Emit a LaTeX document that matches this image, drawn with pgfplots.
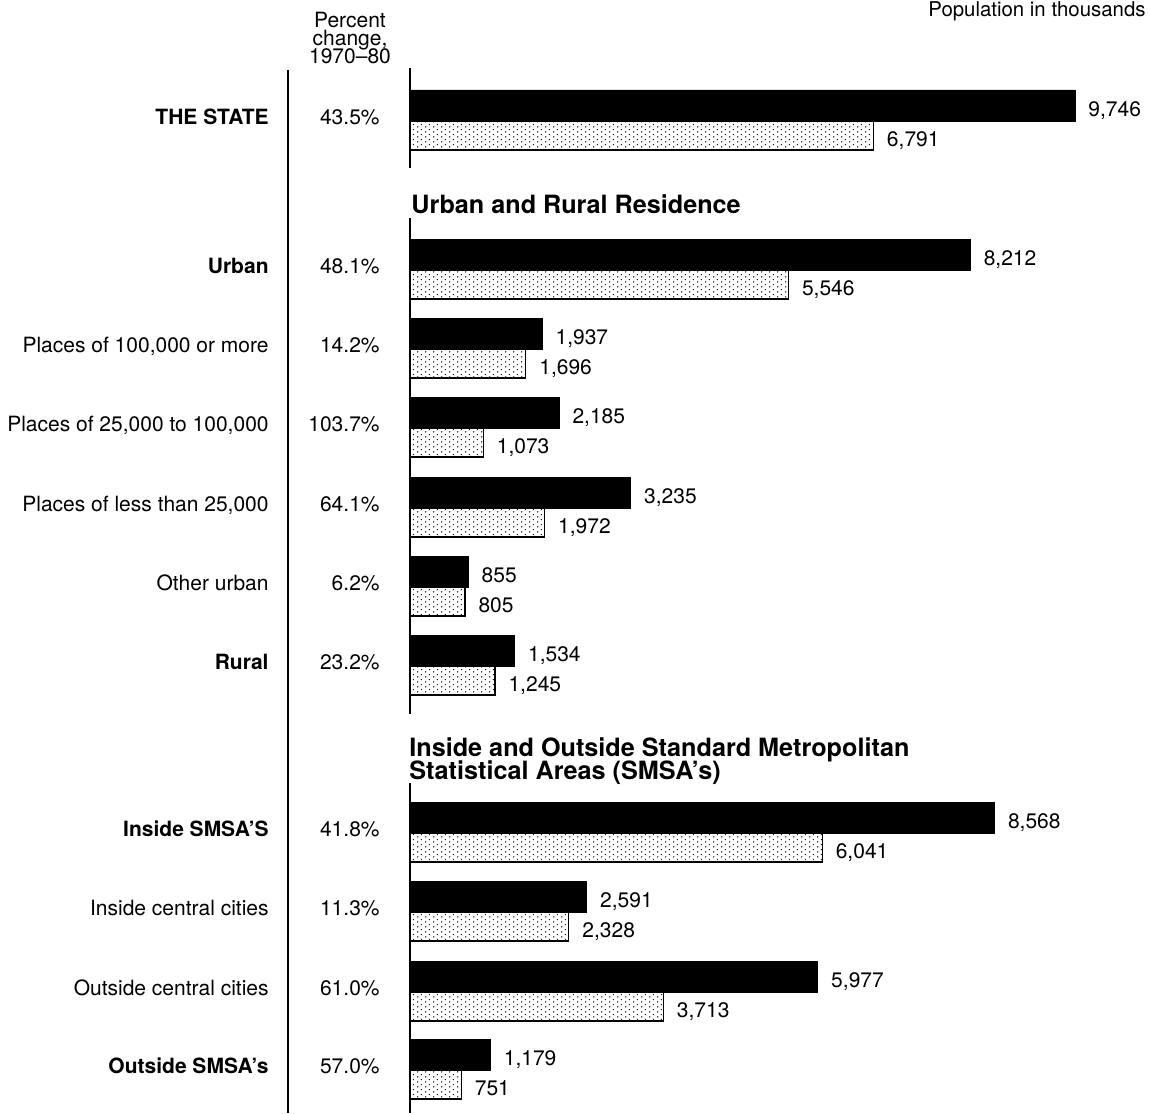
\documentclass[border=0pt]{standalone}
\usepackage{fontspec}
\setmainfont{TeX Gyre Heros}
\usepackage{pgfplots}
\pgfplotsset{compat=1.18}
\usetikzlibrary{patterns}
\pgfdeclarepatternformonly{finedots}{\pgfpointorigin}{\pgfpoint{4pt}{2.6pt}}{\pgfpoint{4pt}{2.6pt}}{%
  \pgfpathcircle{\pgfpoint{1pt}{0.65pt}}{0.38pt}%
  \pgfpathcircle{\pgfpoint{3pt}{1.95pt}}{0.38pt}%
  \pgfusepath{fill}}
\newcommand{\lab}{\fontsize{10.5}{12}\selectfont}
\newcommand{\head}{\bfseries\fontsize{12.6}{11}\selectfont}
\begin{document}
\begin{tikzpicture}[every node/.style={inner sep=0pt}]
\useasboundingbox (0,0) rectangle (574.5pt,556.5pt);
\clip (0,0) rectangle (574.5pt,556.5pt);
\begin{axis}[
  at={(0,0)}, anchor=south west,
  scale only axis, width=574.5pt, height=556.5pt,
  xmin=-6008.8, xmax=10830.5, ymin=0, ymax=1113, y dir=reverse,
  hide axis, clip=false,
]
% 1980 (dark)
\addplot[xbar, bar width=31, bar shift=0, draw=black, fill=black,
  point meta=explicit symbolic, nodes near coords,
  every node near coord/.append style={font=\lab, anchor=base west, inner sep=0pt, xshift=6.5pt, yshift=-5.5pt, text=black}]
coordinates {
 (9746,105.5) [{9,746}]
 (8212,254.5) [{8,212}]
 (1937,333.5) [{1,937}]
 (2185,412.5) [{2,185}]
 (3235,492.5) [{3,235}]
 (855,571.5) [{855}]
 (1534,650.5) [{1,534}]
 (8568,817.5) [{8,568}]
 (2591,896.5) [{2,591}]
 (5977,976.5) [{5,977}]
 (1179,1054.5) [{1,179}]
};
% 1970 (dotted)
\addplot[xbar, bar width=29, bar shift=0, draw=black, line width=0.6pt, fill=white,
  postaction={pattern=finedots},
  point meta=explicit symbolic, nodes near coords,
  every node near coord/.append style={font=\lab, anchor=base west, inner sep=0pt, xshift=6.5pt, yshift=-5.5pt, text=black}]
coordinates {
 (6791,135.5) [{6,791}]
 (5546,284.5) [{5,546}]
 (1696,363.5) [{1,696}]
 (1073,442.5) [{1,073}]
 (1972,522.5) [{1,972}]
 (805,601.5) [{805}]
 (1245,680.5) [{1,245}]
 (6041,847.5) [{6,041}]
 (2328,926.5) [{2,328}]
 (3713,1006.5) [{3,713}]
 (751,1084.5) [{751}]
};
% axis segments and separator
\addplot[black, line width=1pt] coordinates {(0,68) (0,168)};
\addplot[black, line width=1pt] coordinates {(0,218) (0,714)};
\addplot[black, line width=1pt] coordinates {(0,783) (0,1113)};
\addplot[black, line width=1.4pt] coordinates {(-1788,70) (-1788,1113)};

% headers
\node[anchor=base, font=\lab] at ([xshift=-30pt]axis cs:0,28) {Percent};
\node[anchor=base, font=\lab] at ([xshift=-30pt]axis cs:0,46) {change,};
\node[anchor=base, font=\lab] at ([xshift=-30pt]axis cs:0,64) {1970--80};
\node[anchor=base west, font=\fontsize{10.2}{12}\selectfont] at ([xshift=259pt]axis cs:0,17) {Population in thousands};
\node[anchor=base west, font=\head] at ([xshift=0.5pt]axis cs:0,213) {Urban and Rural Residence};
\node[anchor=base west, font=\head] at ([xshift=-0.5pt]axis cs:0,756) {Inside and Outside Standard Metropolitan};
\node[anchor=base west, font=\head] at ([xshift=-0.5pt]axis cs:0,779) {Statistical Areas (SMSA’s)};

% category labels and percent changes
\foreach \c/\t/\p in {
  121/\textbf{THE STATE}/43.5\%,
  270/\textbf{Urban}/48.1\%,
  349/{Places of 100,000 or more}/14.2\%,
  428/{Places of 25,000 to 100,000}/103.7\%,
  508/{Places of less than 25,000}/64.1\%,
  587/Other urban/6.2\%,
  666/\textbf{Rural}/23.2\%,
  833/\textbf{Inside SMSA’S}/41.8\%,
  912/Inside central cities/11.3\%,
  992/Outside central cities/61.0\%,
  1070/\textbf{Outside SMSA’s}/57.0\%}{
  \edef\temp{\noexpand\node[anchor=base east, font=\noexpand\lab] at ([xshift=-70.5pt]axis cs:0,\c+3) {\unexpanded\expandafter{\t}};}
  \temp
  \edef\temp{\noexpand\node[anchor=base east, font=\noexpand\lab] at ([xshift=-15pt]axis cs:0,\c+3) {\unexpanded\expandafter{\p}};}
  \temp
}
\end{axis}
\end{tikzpicture}
\end{document}
